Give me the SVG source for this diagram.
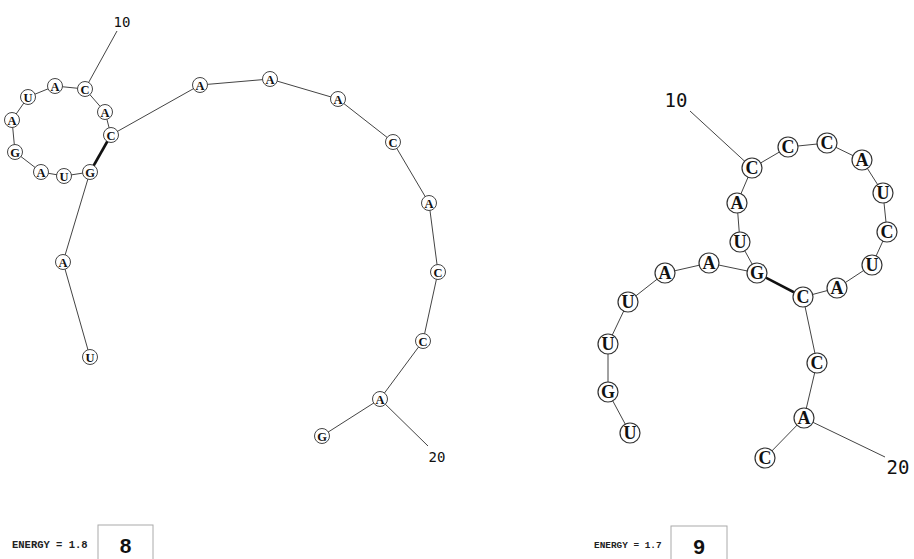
<svg xmlns="http://www.w3.org/2000/svg" width="914" height="559" viewBox="0 0 914 559">
<style>
.bg{fill:#fff}
.l{stroke:#444;stroke-width:1;fill:none}
.p{stroke:#111;stroke-width:2.6;fill:none}
.n1 circle{fill:#fff;stroke:#444;stroke-width:1}
.n1 text{font-family:"Liberation Serif",serif;font-weight:bold;font-size:12.5px;fill:#111;text-anchor:middle}
.n2 circle{fill:#fff;stroke:#333;stroke-width:1.2}
.n2 text{font-family:"Liberation Serif",serif;font-weight:bold;font-size:18px;fill:#111;text-anchor:middle}
.num{font-family:"DejaVu Sans Mono",monospace;fill:#111}
.en{font-family:"Liberation Mono",monospace;font-weight:bold;fill:#222}
.box{fill:#fff;stroke:#aaa;stroke-width:1}
.bn{font-family:"Liberation Sans",sans-serif;font-weight:bold;font-size:21px;fill:#111;text-anchor:middle}
</style>
<rect class="bg" width="914" height="559"/>
<g id="connectors">
<polyline class="l" points="90,357 63,262 90,172 64,176 41,172 15,152 12,120 28,97 55,86 85,89 105,112 111,135 200,85 270,79 338,99 393,142 429,203 438,272 423,341 380,399 322,436"/>
<line class="l" x1="85" y1="89" x2="117" y2="31"/>
<line class="l" x1="380" y1="399" x2="428" y2="446"/>
<line class="p" x1="90" y1="172" x2="111" y2="135"/>
<polyline class="l" points="630,433 608,392 608,344 628,302 665,273 709,263 757,273 740,242 737,203 752,168 788,147 827,143 862,160 883,193 887,232 872,265 837,288 803,297 817,363 804,418 765,458"/>
<line class="l" x1="752" y1="168" x2="690" y2="111"/>
<line class="l" x1="804" y1="418" x2="885" y2="457"/>
<line class="p" x1="757" y1="273" x2="803" y2="297"/>
</g>
<g id="left-structure" class="n1">
<g id="L1"><circle cx="90" cy="357" r="7.5"/><text x="90" y="361.5">U</text></g>
<g id="L2"><circle cx="63" cy="262" r="7.5"/><text x="63" y="266.5">A</text></g>
<g id="L3"><circle cx="90" cy="172" r="7.5"/><text x="90" y="176.5">G</text></g>
<g id="L4"><circle cx="64" cy="176" r="7.5"/><text x="64" y="180.5">U</text></g>
<g id="L5"><circle cx="41" cy="172" r="7.5"/><text x="41" y="176.5">A</text></g>
<g id="L6"><circle cx="15" cy="152" r="7.5"/><text x="15" y="156.5">G</text></g>
<g id="L7"><circle cx="12" cy="120" r="7.5"/><text x="12" y="124.5">A</text></g>
<g id="L8"><circle cx="28" cy="97" r="7.5"/><text x="28" y="101.5">U</text></g>
<g id="L9"><circle cx="55" cy="86" r="7.5"/><text x="55" y="90.5">A</text></g>
<g id="L10"><circle cx="85" cy="89" r="7.5"/><text x="85" y="93.5">C</text></g>
<g id="L11"><circle cx="105" cy="112" r="7.5"/><text x="105" y="116.5">A</text></g>
<g id="L12"><circle cx="111" cy="135" r="7.5"/><text x="111" y="139.5">C</text></g>
<g id="L13"><circle cx="200" cy="85" r="7.5"/><text x="200" y="89.5">A</text></g>
<g id="L14"><circle cx="270" cy="79" r="7.5"/><text x="270" y="83.5">A</text></g>
<g id="L15"><circle cx="338" cy="99" r="7.5"/><text x="338" y="103.5">A</text></g>
<g id="L16"><circle cx="393" cy="142" r="7.5"/><text x="393" y="146.5">C</text></g>
<g id="L17"><circle cx="429" cy="203" r="7.5"/><text x="429" y="207.5">A</text></g>
<g id="L18"><circle cx="438" cy="272" r="7.5"/><text x="438" y="276.5">C</text></g>
<g id="L19"><circle cx="423" cy="341" r="7.5"/><text x="423" y="345.5">C</text></g>
<g id="L20"><circle cx="380" cy="399" r="7.5"/><text x="380" y="403.5">A</text></g>
<g id="L21"><circle cx="322" cy="436" r="7.5"/><text x="322" y="440.5">G</text></g>
</g>
<text id="L-label10" class="num" x="122" y="27" font-size="14" text-anchor="middle">10</text>
<text id="L-label20" class="num" x="437" y="462" font-size="14" text-anchor="middle">20</text>
<g id="right-structure" class="n2">
<g id="R1"><circle cx="630" cy="433" r="10"/><text x="630" y="439">U</text></g>
<g id="R2"><circle cx="608" cy="392" r="10"/><text x="608" y="398">G</text></g>
<g id="R3"><circle cx="608" cy="344" r="10"/><text x="608" y="350">U</text></g>
<g id="R4"><circle cx="628" cy="302" r="10"/><text x="628" y="308">U</text></g>
<g id="R5"><circle cx="665" cy="273" r="10"/><text x="665" y="279">A</text></g>
<g id="R6"><circle cx="709" cy="263" r="10"/><text x="709" y="269">A</text></g>
<g id="R7"><circle cx="757" cy="273" r="10"/><text x="757" y="279">G</text></g>
<g id="R8"><circle cx="740" cy="242" r="10"/><text x="740" y="248">U</text></g>
<g id="R9"><circle cx="737" cy="203" r="10"/><text x="737" y="209">A</text></g>
<g id="R10"><circle cx="752" cy="168" r="10"/><text x="752" y="174">C</text></g>
<g id="R11"><circle cx="788" cy="147" r="10"/><text x="788" y="153">C</text></g>
<g id="R12"><circle cx="827" cy="143" r="10"/><text x="827" y="149">C</text></g>
<g id="R13"><circle cx="862" cy="160" r="10"/><text x="862" y="166">A</text></g>
<g id="R14"><circle cx="883" cy="193" r="10"/><text x="883" y="199">U</text></g>
<g id="R15"><circle cx="887" cy="232" r="10"/><text x="887" y="238">C</text></g>
<g id="R16"><circle cx="872" cy="265" r="10"/><text x="872" y="271">U</text></g>
<g id="R17"><circle cx="837" cy="288" r="10"/><text x="837" y="294">A</text></g>
<g id="R18"><circle cx="803" cy="297" r="10"/><text x="803" y="303">C</text></g>
<g id="R19"><circle cx="817" cy="363" r="10"/><text x="817" y="369">C</text></g>
<g id="R20"><circle cx="804" cy="418" r="10"/><text x="804" y="424">A</text></g>
<g id="R21"><circle cx="765" cy="458" r="10"/><text x="765" y="464">C</text></g>
</g>
<text id="R-label10" class="num" x="676" y="107" font-size="19" text-anchor="middle">10</text>
<text id="R-label20" class="num" x="898" y="474" font-size="19" text-anchor="middle">20</text>
<g id="energy-8">
<text class="en" x="12" y="548" font-size="10.5">ENERGY = 1.8</text>
<rect class="box" x="98" y="525" width="55" height="40"/>
<text class="bn" x="125.5" y="553">8</text>
</g>
<g id="energy-9">
<text class="en" x="594" y="548" font-size="9.4">ENERGY = 1.7</text>
<rect class="box" x="671" y="526" width="56" height="40"/>
<text class="bn" x="699" y="554">9</text>
</g>
</svg>
